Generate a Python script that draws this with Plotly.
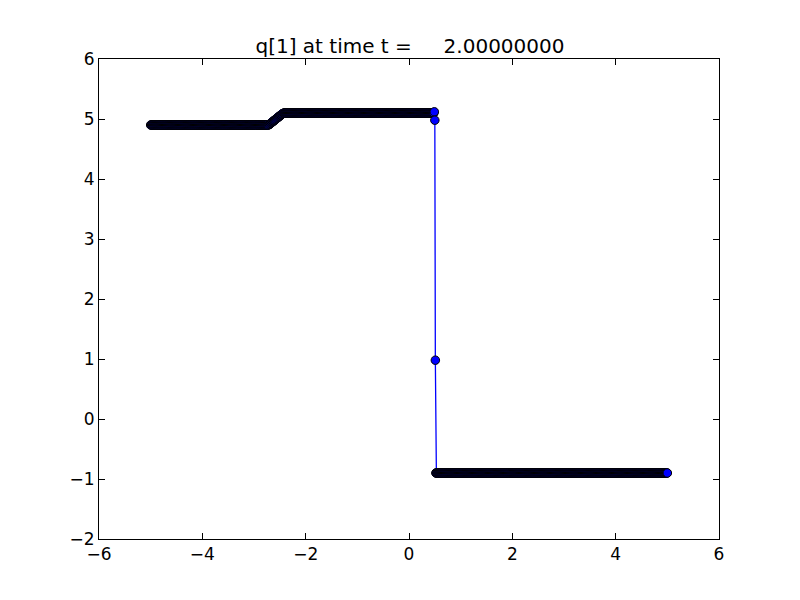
"""
q[1] at time t = 2.0 : solution snapshot on a uniform grid.
"""

import numpy as np
import plotly.graph_objects as go

# grid: 1001 cell points from -5 to 5
x_min, x_max, n_points = -5.0, 5.0, 1001

# q values, left to right
left_state = 4.90
left_count = 227
ramp_values = [4.900, 4.902, 4.906, 4.912, 4.919, 4.926, 4.933, 4.940, 4.947,
               4.954, 4.961, 4.968, 4.975, 4.982, 4.989, 4.996, 5.003, 5.010,
               5.017, 5.024, 5.031, 5.038, 5.045, 5.052, 5.059, 5.066, 5.073,
               5.080, 5.086, 5.091, 5.095, 5.098, 5.099, 5.100]
plateau_state = 5.10
plateau_count = 288
shock_values = [5.12, 4.98, 0.98]
right_state = -0.90
right_count = 449

title_text = "q[1] at time t =\u00a0\u00a0\u00a0\u00a0\u00a02.00000000"
x_ticks = [-6, -4, -2, 0, 2, 4, 6]
y_ticks = [-2, -1, 0, 1, 2, 3, 4, 5, 6]

x = np.linspace(x_min, x_max, n_points)
q = ([left_state] * left_count + ramp_values + [plateau_state] * plateau_count
     + shock_values + [right_state] * right_count)

fig = go.Figure()

fig.add_trace(go.Scatter(
    x=x,
    y=q,
    mode='lines+markers',
    line=dict(color='#0000ff', width=1.3),
    marker=dict(color='#0000ff', size=8.5, line=dict(color='black', width=1)),
    showlegend=False
))

axis_style = dict(
    showgrid=False,
    zeroline=False,
    showline=True,
    linecolor='black',
    linewidth=1,
    mirror='allticks',
    ticks='inside',
    ticklen=6,
    tickcolor='black',
    tickfont=dict(size=17, color='black'),
)

fig.update_layout(
    width=800,
    height=600,
    margin=dict(l=99, r=81, t=59, b=61),
    paper_bgcolor='white',
    plot_bgcolor='white',
    font=dict(family='DejaVu Sans', size=17, color='black'),
    title=dict(text=title_text, x=0.5125, xanchor='center',
               y=0.923, yanchor='middle', font=dict(size=20)),
    xaxis=dict(range=[-6, 6], tickvals=x_ticks, **axis_style),
    yaxis=dict(range=[-2, 6], tickvals=y_ticks, **axis_style),
)

# drop the default page margin so the figure sits at the window origin
fig.write_html("out.html", config={'displayModeBar': False},
               post_script="document.body.style.margin='0';")
